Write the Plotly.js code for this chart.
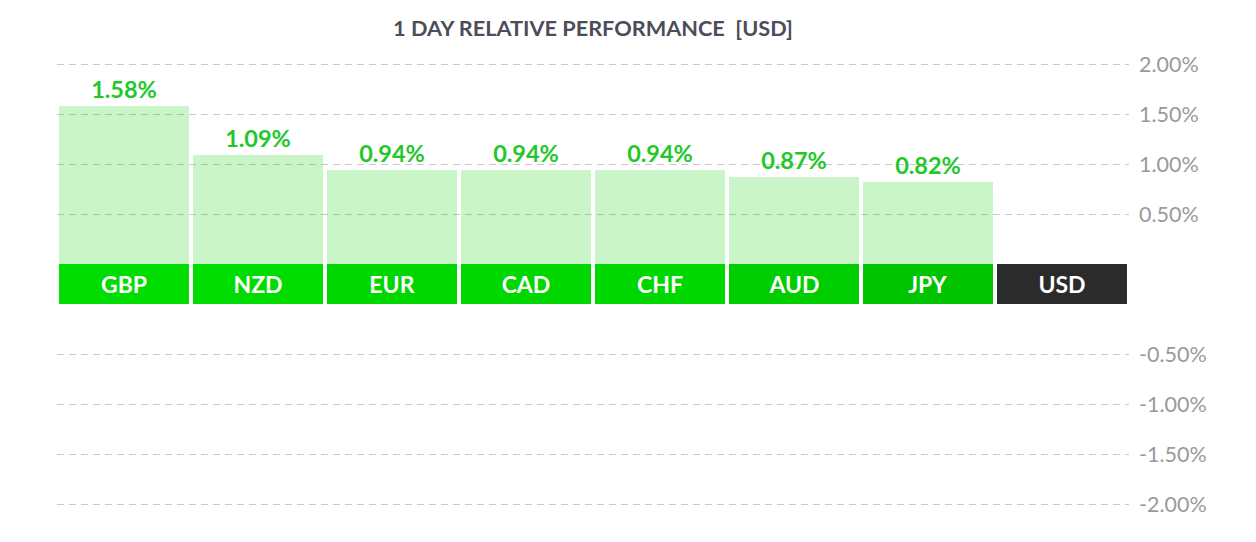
<!DOCTYPE html>
<html>
<head>
<meta charset="utf-8">
<script src="https://cdn.plot.ly/plotly-3.0.1.min.js"></script>
<style>html,body{margin:0;padding:0;background:#fff;}#chart{width:1256px;height:542px;}</style>
</head>
<body>
<div id="chart"></div>
<script>
// Data
const currencies = ['GBP','NZD','EUR','CAD','CHF','AUD','JPY','USD'];
const changes = [1.58, 1.09, 0.94, 0.94, 0.94, 0.87, 0.82, 0.00];
const bandColors = ['#00dc00','#00dc00','#00d700','#00d700','#00d700','#00cd00','#00c400','#2b2b2b'];
const posTicks = [0.5, 1.0, 1.5, 2.0];
const negTicks = [-2.0, -1.5, -1.0, -0.5];

const H = 542;
const frac = p => (H - p) / H;
const fmt = v => v.toFixed(2) + '%';

const gridStyle = {
  showgrid: true, gridcolor: '#c9c9c9', gridwidth: 1, griddash: '7px,5px',
  zeroline: false, showline: false, ticks: '', side: 'right',
  ticklabelstandoff: 9,
  tickfont: {family: 'Lato', size: 21.5, color: '#9a9a9a'},
  fixedrange: true
};

const traces = [
  {
    type: 'bar', x: currencies, y: changes, xaxis: 'x', yaxis: 'y',
    marker: {color: 'rgba(0,210,0,0.21)', line: {width: 0}},
    text: changes.map(v => v > 0 ? fmt(v) : ''),
    textposition: 'outside', cliponaxis: false, constraintext: 'none',
    textfont: {family: 'Lato', size: 23.5, weight: 'bold', color: '#22c82a'},
    hoverinfo: 'skip'
  },
  {
    type: 'bar', x: currencies, y: changes, xaxis: 'x', yaxis: 'y2',
    marker: {color: 'rgba(220,0,0,0.21)', line: {width: 0}},
    hoverinfo: 'skip'
  },
  {
    type: 'bar', x: currencies, y: currencies.map(() => 1), xaxis: 'x', yaxis: 'y3',
    marker: {color: bandColors, line: {width: 0}},
    text: currencies, textposition: 'inside', insidetextanchor: 'middle',
    constraintext: 'none',
    textfont: {family: 'Lato', size: 23, weight: 'bold', color: '#ffffff'},
    hoverinfo: 'skip'
  }
];

const layout = {
  width: 1256, height: 542,
  margin: {l: 57, r: 127, t: 0, b: 0},
  paper_bgcolor: '#ffffff', plot_bgcolor: 'rgba(0,0,0,0)',
  showlegend: false, bargap: 0.03,
  title: {
    text: '1 DAY RELATIVE PERFORMANCE\u00a0\u00a0[USD]',
    x: 0.5, xref: 'paper', xanchor: 'center',
    y: 1 - 28 / H, yref: 'container', yanchor: 'middle',
    font: {family: 'Lato', size: 21.7, weight: 'bold', color: '#4b4d58'}
  },
  xaxis: {
    range: [-0.5, 7.5], showticklabels: false, showgrid: false, zeroline: false,
    showline: false, ticks: '', fixedrange: true
  },
  yaxis: Object.assign({}, gridStyle, {
    domain: [frac(264), frac(59)], range: [0, 2.05], anchor: 'x',
    tickvals: posTicks, ticktext: posTicks.map(fmt)
  }),
  yaxis2: Object.assign({}, gridStyle, {
    domain: [frac(509), frac(304)], range: [-2.05, 0], anchor: 'x',
    tickvals: negTicks, ticktext: negTicks.map(fmt)
  }),
  yaxis3: {
    domain: [frac(304), frac(264)], range: [0, 1], anchor: 'x',
    showgrid: false, zeroline: false, showticklabels: false, ticks: '', fixedrange: true
  }
};

Plotly.newPlot('chart', traces, layout, {displayModeBar: false, staticPlot: true});
</script>
</body>
</html>
